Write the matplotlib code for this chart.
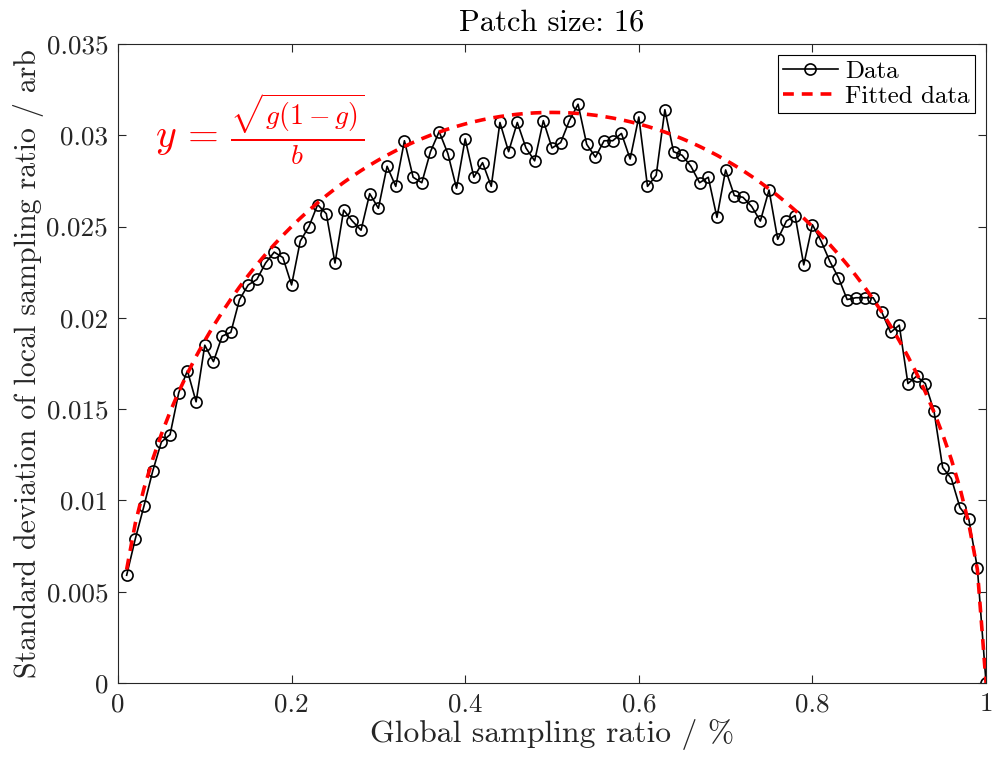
import numpy as np
from matplotlib import pyplot as plt

# global sampling ratio g (0.01 .. 1.00)
ratio = [round(0.01 * i, 2) for i in range(1, 101)]

# standard deviation of local sampling ratio
std_dev = [
    0.0059, 0.0079, 0.0097, 0.0116, 0.0132, 0.0136, 0.0159, 0.0171, 0.0154, 0.0185,
    0.0176, 0.0190, 0.0192, 0.0210, 0.0218, 0.0221, 0.0230, 0.0236, 0.0233, 0.0218,
    0.0242, 0.0250, 0.0262, 0.0257, 0.0230, 0.0259, 0.0253, 0.0248, 0.0268, 0.0260,
    0.0283, 0.0272, 0.0297, 0.0277, 0.0274, 0.0291, 0.0302, 0.0290, 0.0271, 0.0298,
    0.0277, 0.0285, 0.0272, 0.0307, 0.0291, 0.0307, 0.0293, 0.0286, 0.0308, 0.0293,
    0.0296, 0.0308, 0.0317, 0.0295, 0.0288, 0.0297, 0.0297, 0.0301, 0.0287, 0.0310,
    0.0272, 0.0278, 0.0314, 0.0291, 0.0289, 0.0283, 0.0274, 0.0277, 0.0255, 0.0281,
    0.0267, 0.0266, 0.0261, 0.0253, 0.0270, 0.0243, 0.0253, 0.0256, 0.0229, 0.0251,
    0.0242, 0.0231, 0.0222, 0.0210, 0.0211, 0.0211, 0.0211, 0.0203, 0.0192, 0.0196,
    0.0164, 0.0168, 0.0164, 0.0149, 0.0118, 0.0112, 0.0096, 0.0090, 0.0063, 0.0000,
]

patch_size = 16
b = 16.0  # fitted constant

x_ticks = [0, 0.2, 0.4, 0.6, 0.8, 1]
x_tick_labels = ['0', '0.2', '0.4', '0.6', '0.8', '1']
y_ticks = [0, 0.005, 0.01, 0.015, 0.02, 0.025, 0.03, 0.035]
y_tick_labels = ['0', '0.005', '0.01', '0.015', '0.02', '0.025', '0.03', '0.035']

plt.rcParams['font.family'] = ['cmr10', 'DejaVu Serif']
plt.rcParams['mathtext.fontset'] = 'cm'
plt.rcParams['axes.unicode_minus'] = False

fig = plt.figure(figsize=(9.93, 7.66), dpi=100)
ax = fig.add_axes([0.1188, 0.1084, 0.8742, 0.8342])

g = np.array(ratio)
fitted = np.sqrt(g * (1 - g)) / b

ax.plot(ratio, std_dev, color='black', linewidth=1.2, marker='o', markersize=8,
        markerfacecolor='none', markeredgecolor='black', markeredgewidth=1.2, label='Data')
ax.plot(ratio, fitted, color='red', linestyle=(0, (3, 2.2)), linewidth=2.6, label='Fitted data')

ax.set_xlim(0, 1)
ax.set_ylim(0, 0.035)
ax.set_xticks(x_ticks)
ax.set_xticklabels(x_tick_labels)
ax.set_yticks(y_ticks)
ax.set_yticklabels(y_tick_labels)

dark = '#262626'
ax.tick_params(direction='in', length=6, width=0.8, top=True, right=True,
               labelsize=19.5, colors=dark, pad=7)
for s in ax.spines.values():
    s.set_color(dark)
    s.set_linewidth(0.8)

ax.set_xlabel('Global sampling ratio / %', fontsize=22.8, color=dark, labelpad=2)
ax.set_ylabel('Standard deviation of local sampling ratio / arb', fontsize=21.5, color=dark, labelpad=2)
ax.set_title('Patch size: %d' % patch_size, fontsize=22, color='black', pad=10)

ax.text(0.043, 0.0303, r'$y\,=\,\frac{\sqrt{g(1-g)}}{b}$', color='red', fontsize=28.5,
        va='center', ha='left')

leg = ax.legend(loc='upper right', fontsize=18, fancybox=False, framealpha=1,
                edgecolor='black', borderaxespad=0.45, handlelength=2.2, borderpad=0.2,
                labelspacing=0.1, handletextpad=0.3)
leg.get_frame().set_linewidth(0.8)

plt.savefig('out.png', dpi=100)
